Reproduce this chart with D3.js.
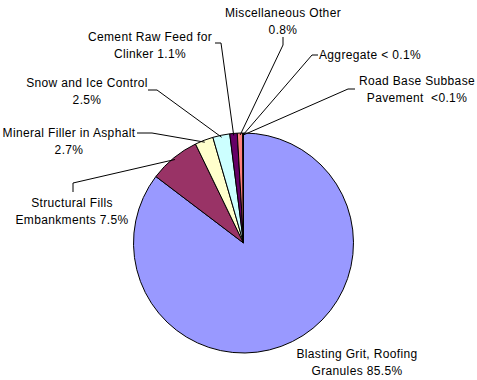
<!DOCTYPE html>
<html lang="en">
<head>
    <meta charset="UTF-8">
    <title>Uses pie</title>
    <script src="https://cdn.jsdelivr.net/npm/d3@7/dist/d3.min.js"></script>
</head>
<style>
    body { margin: 0; background: #fff; }
    .lbl {
        font-family: Arial, "Liberation Sans", sans-serif;
        font-size: 12px;
        letter-spacing: 0.35px;
        fill: #000;
        text-anchor: middle;
        white-space: pre;
    }
</style>
<body>
<script>
    var width = 477;
    var height = 380;

    // data
    var categories = ['Blasting Grit, Roofing Granules', 'Structural Fills Embankments',
        'Mineral Filler in Asphalt', 'Snow and Ice Control', 'Cement Raw Feed for Clinker',
        'Miscellaneous Other', 'Aggregate', 'Road Base Subbase Pavement'];
    var values = [85.5, 7.5, 2.7, 2.5, 1.1, 0.8, 0.05, 0.05];
    var labelLines = [
        ['Blasting Grit, Roofing', 'Granules 85.5%'],
        ['Structural Fills', 'Embankments 7.5%'],
        ['Mineral Filler in Asphalt', '2.7%'],
        ['Snow and Ice Control', '2.5%'],
        ['Cement Raw Feed for', 'Clinker 1.1%'],
        ['Miscellaneous Other', '0.8%'],
        ['Aggregate < 0.1%'],
        ['Road Base Subbase', 'Pavement  <0.1%']
    ];
    var colors = ['#9999FF', '#993366', '#FFFFCC', '#CCFFFF', '#660066', '#FF8080', '#0066CC', '#CCCCFF'];

    // label layout: text centre x, first baseline y, elbow points of leader (null = none)
    var labelPos = [
        {x: 357, y: 358, elbow: null},
        {x: 72, y: 207, elbow: [[73, 192], [73, 183]]},
        {x: 69, y: 137, elbow: [[137, 133], [152, 133]]},
        {x: 87, y: 87, elbow: [[148, 90], [157, 90]]},
        {x: 150, y: 41, elbow: [[215, 43], [221, 43]]},
        {x: 283, y: 17, elbow: [[283, 37], [283, 45]]},
        {x: 370, y: 59, elbow: [[318, 55], [312, 55]]},
        {x: 417, y: 85, elbow: [[355, 89], [348, 89]]}
    ];

    var cx = 243.5, cy = 243, r = 110;

    var svg = d3.select('body')
        .append('svg')
        .attr('width', width)
        .attr('height', height)

    var pie = d3.pie().sort(null).startAngle(0).endAngle(2 * Math.PI);
    var arcs = pie(values);
    var arc = d3.arc().innerRadius(0).outerRadius(r);

    var g = svg.append('g')
        .attr('transform', 'translate(' + cx + ',' + cy + ')');

    g.selectAll('path')
        .data(arcs)
        .enter()
        .append('path')
        .attr('d', arc)
        .attr('fill', function (d, i) { return colors[i]; })
        .attr('stroke', '#000')
        .attr('stroke-width', 1)
        .attr('stroke-linejoin', 'round');

    // leader lines
    svg.selectAll('.leader')
        .data(arcs)
        .enter()
        .filter(function (d, i) { return labelPos[i].elbow; })
        .append('polyline')
        .attr('class', 'leader')
        .attr('fill', 'none')
        .attr('stroke', '#000')
        .attr('stroke-width', 1)
        .attr('points', function (d) {
            var i = d.index;
            var a = (d.startAngle + d.endAngle) / 2;
            var px = cx + (r - 2) * Math.sin(a);
            var py = cy - (r - 2) * Math.cos(a);
            var pts = labelPos[i].elbow.concat([[px, py]]);
            return pts.map(function (p) { return p[0] + ',' + p[1]; }).join(' ');
        });

    // labels
    var lbl = svg.selectAll('.lbl')
        .data(labelLines)
        .enter()
        .append('text')
        .attr('class', 'lbl')
        .attr('x', function (d, i) { return labelPos[i].x; })
        .attr('y', function (d, i) { return labelPos[i].y; });

    lbl.selectAll('tspan')
        .data(function (d, i) { return d.map(function (s) { return {s: s, i: i}; }); })
        .enter()
        .append('tspan')
        .attr('x', function (d) { return labelPos[d.i].x; })
        .attr('dy', function (d, j) { return j === 0 ? 0 : 16.5; })
        .text(function (d) { return d.s; });
</script>

</body>
</html>
